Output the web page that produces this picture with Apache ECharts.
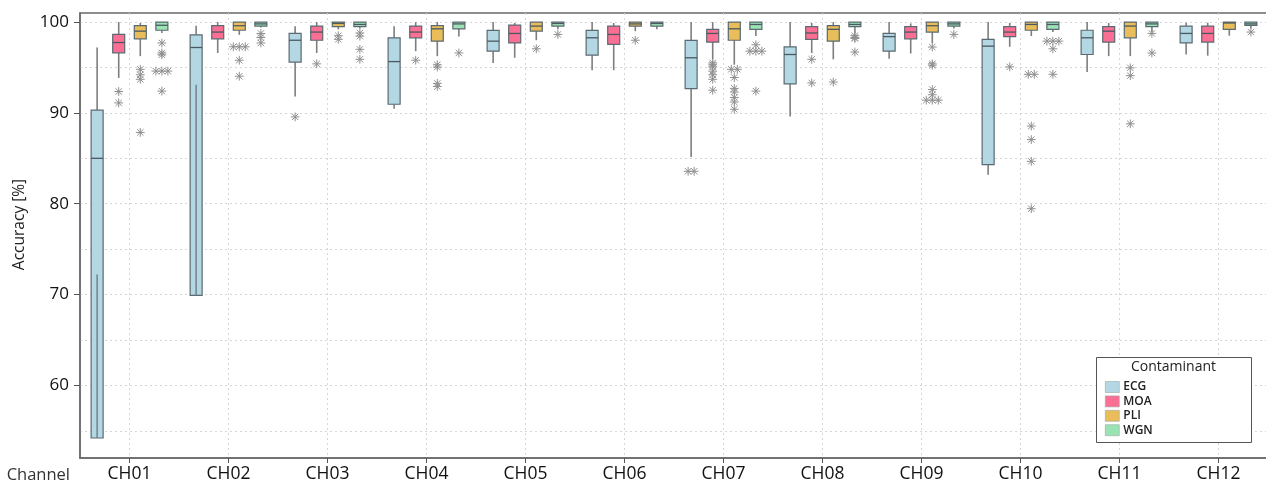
<!DOCTYPE html>
<html><head><meta charset="utf-8">
<script src="https://cdn.jsdelivr.net/npm/echarts@6/dist/echarts.min.js"></script>
<style>html,body{margin:0;padding:0;background:#fff;overflow:hidden}#c{width:1266px;height:485px}</style>
</head><body><div id="c"></div>
<script>
const categories = ['CH01','CH02','CH03','CH04','CH05','CH06','CH07','CH08','CH09','CH10','CH11','CH12'];
const contaminants = ['ECG','MOA','PLI','WGN'];
const yTickValues = [60,70,80,90,100];
const yGridValues = [55,60,65,70,75,80,85,90,95,100];

// [low whisker, Q1, median, Q3, high whisker]
const ecgStats = [
  [54.2,54.2,85.0,90.3,97.2],[69.9,69.9,97.2,98.6,99.6],[91.8,95.6,98.0,98.75,99.55],
  [90.45,90.95,95.65,98.27,99.55],[95.5,96.8,97.9,99.08,100],[94.7,96.36,98.27,99.08,100],
  [85.15,92.68,96.07,97.98,100],[89.6,93.2,96.43,97.28,100],[95.96,96.8,98.4,98.75,100],
  [83.2,84.3,97.35,98.1,100],[94.5,96.43,98.27,99.1,100],[96.43,97.7,98.75,99.56,99.93]
];
const ecgInner = [72.2,93.1,null,null,null,null,null,null,null,null,null,null];
const ecgOutliers = [[],[],[89.56],[],[],[],[83.57,83.57],[],[],[],[],[]];

const moaStats = [
  [93.85,96.62,97.75,98.64,100],[96.6,98.16,98.9,99.6,100],[96.6,98.0,98.9,99.56,100],
  [96.8,98.27,98.9,99.56,100],[96.07,97.7,98.75,99.67,99.9],[94.7,97.54,98.64,99.56,99.9],
  [95.9,97.8,98.75,99.19,100],[96.6,98.1,98.8,99.5,99.9],[96.54,98.16,98.9,99.5,99.85],
  [97.28,98.4,98.9,99.5,99.9],[96.25,97.8,99.0,99.5,99.9],[96.3,97.8,98.75,99.56,99.93]
];
const moaOutliers = [[92.35,91.1],[],[95.4],[95.8],[],[],[95.5,95.3,95.07,94.6,94.2,93.7,92.5],
  [95.9,93.3],[],[95.07],[],[]];

const pliStats = [
  [96.25,98.16,99.0,99.6,99.9],[98.6,99.1,99.6,100,100],[99.2,99.5,99.85,100,100],
  [96.25,97.9,99.26,99.6,100],[98.0,99.0,99.56,100,100],[99.0,99.56,99.8,100,100],
  [95.3,98.0,99.26,100,100],[95.9,97.9,99.2,99.6,100],[97.7,98.9,99.6,100,100],
  [98.46,99.1,99.74,100,100],[96.25,98.27,99.56,100,100],[98.5,99.2,99.9,100,100]
];
const pliOutliers = [[94.8,94.2,93.7,87.85],[97.28,97.28,97.28,95.8,94.04],[98.5,98.1],
  [95.3,95.05,93.25,92.9],[97.06],[98.0],[94.8,94.8,93.9,92.7,92.3,91.7,91.2,90.4],
  [93.4],[97.25,95.4,95.25,92.57,92.0,91.4,91.4,91.4],[94.25,94.25,88.55,87.06,84.67,79.45],
  [94.96,94.1,88.8],[]];

const wgnStats = [
  [98.8,99.1,99.65,100,100],[99.4,99.56,99.8,100,100],[99.3,99.5,99.74,100,100],
  [98.4,99.26,99.8,100,100],[99.2,99.56,99.85,100,100],[99.2,99.56,99.85,100,100],
  [98.46,99.2,99.74,100,100],[98.8,99.5,99.74,100,100],[99.3,99.56,99.8,100,100],
  [98.9,99.2,99.74,100,100],[98.9,99.5,99.8,100,100],[99.3,99.63,99.8,100,100]
];
const wgnOutliers = [[97.7,96.6,96.4,94.6,94.6,94.6,92.4],[98.75,98.3,97.7],[98.8,98.45,97.0,95.9],
  [96.6],[98.64],[],[97.5,96.8,96.8,96.8,92.4],[98.5,98.3,98.2,96.7],[98.64],
  [97.9,97.9,97.9,97.06,94.25],[98.75,96.6],[98.9]];

const fills = ['#b3d7e3','#fb6f95','#e9bd5a','#9be3b3'];
const boxStroke = '#5b6a72';
const whiskerColor = '#7e7e7e';
const font = '"Open Sans", "Noto Sans", sans-serif';

const statsBy = [ecgStats, moaStats, pliStats, wgnStats];
const outBy = [ecgOutliers, moaOutliers, pliOutliers, wgnOutliers];
const innerBy = [ecgInner, null, null, null];

function seriesOffset(api, si) {
  const band = api.size([1, 0])[0];
  return (si - 1.5) * band * 0.218;
}

function boxSeries(si) {
  const stats = statsBy[si], inner = innerBy[si];
  return {
    type: 'custom', name: contaminants[si], z: 3,
    itemStyle: {color: fills[si], borderColor: boxStroke},
    encode: {x: 0, y: [1,2,3,4,5]},
    data: stats.map((s, i) => [i].concat(s)),
    renderItem: function (params, api) {
      const i = api.value(0);
      const cx = api.coord([i, 100])[0] + seriesOffset(api, si);
      const y = k => api.coord([i, api.value(k)])[1];
      const ylo = y(1), yq1 = y(2), ymed = y(3), yq3 = y(4), yhi = y(5);
      const hw = 6;
      const ch = [
        {type:'line', shape:{x1:cx,y1:yq3,x2:cx,y2:yhi}, style:{stroke:whiskerColor,lineWidth:1.6}},
        {type:'line', shape:{x1:cx,y1:yq1,x2:cx,y2:ylo}, style:{stroke:whiskerColor,lineWidth:1.6}},
        {type:'rect', shape:{x:cx-hw,y:yq3,width:2*hw,height:Math.max(yq1-yq3,1)},
          style:{fill:fills[si],stroke:boxStroke,lineWidth:1.2}},
        {type:'line', shape:{x1:cx-hw,y1:ymed,x2:cx+hw,y2:ymed}, style:{stroke:'#4a5960',lineWidth:1.3}}
      ];
      if (inner && inner[i] != null) {
        const yi = api.coord([i, inner[i]])[1];
        ch.push({type:'line', shape:{x1:cx,y1:yq1,x2:cx,y2:yi}, style:{stroke:'#6d7c84',lineWidth:1.4}});
      }
      return {type:'group', children: ch};
    }
  };
}

function outlierSeries(si) {
  const outs = outBy[si];
  const data = [];
  outs.forEach((vals, i) => {
    const counts = {};
    vals.forEach(v => { counts[v] = (counts[v] || 0) + 1; });
    const seen = {};
    vals.forEach(v => {
      const k = seen[v] = (seen[v] || 0) + 1;
      data.push([i, v, (k - 1) - (counts[v] - 1) / 2]);
    });
  });
  return {
    type: 'custom', name: contaminants[si], z: 4,
    itemStyle: {color: fills[si]},
    encode: {x: 0, y: 1},
    data: data,
    renderItem: function (params, api) {
      const i = api.value(0);
      const p = api.coord([i, api.value(1)]);
      const cx = p[0] + seriesOffset(api, si) + api.value(2) * 6;
      const cy = p[1];
      const r = 4.4, d = r * 0.72;
      const st = {stroke:'#8f8f8f', lineWidth:1};
      return {type:'group', children:[
        {type:'line', shape:{x1:cx,y1:cy-r,x2:cx,y2:cy+r}, style:st},
        {type:'line', shape:{x1:cx-r,y1:cy,x2:cx+r,y2:cy}, style:st},
        {type:'line', shape:{x1:cx-d,y1:cy-d,x2:cx+d,y2:cy+d}, style:st},
        {type:'line', shape:{x1:cx-d,y1:cy+d,x2:cx+d,y2:cy-d}, style:st}
      ]};
    }
  };
}

const gridLine = {show:true, lineStyle:{color:'#d6d6d6', width:1, type:[2,3]}};

const option = {
  backgroundColor: '#fff',
  animation: false,
  grid: {left: 80, right: -2, top: 13, bottom: 27, show: true, borderColor: '#6a6a6a', borderWidth: 1.5,
    containLabel: false, outerBoundsMode: 'none'},
  legend: {
    orient: 'vertical', left: 1100, top: 376, itemWidth: 14, itemHeight: 11, itemGap: 2.4,
    icon: 'rect', data: contaminants,
    itemStyle: {borderColor: '#9aa', borderWidth: 0.6},
    textStyle: {fontFamily: font, fontSize: 12, fontWeight: 600, color: '#222', padding: [0,0,0,-1]}
  },
  graphic: [
    {type:'rect', left: 1096, top: 357, shape:{width:155, height:85}, z: 1,
      style:{fill:'#fff', stroke:'#555', lineWidth:1}},
    {type:'text', left: 1131, top: 360, z: 2,
      style:{text:'Contaminant', fontFamily: font, fontSize: 14, fill:'#222'}}
  ],
  xAxis: {
    type: 'category', data: categories,
    name: 'Channel', nameLocation: 'start', nameGap: 10,
    nameTextStyle: {fontFamily: font, fontSize: 16.5, color: '#333', verticalAlign: 'top', padding: [9,0,0,0]},
    axisLine: {show: true, lineStyle: {color: '#6a6a6a', width: 1.5}},
    axisTick: {show: true, alignWithLabel: true, length: 5, lineStyle: {color: '#555'}},
    axisLabel: {fontFamily: font, fontSize: 17.5, color: '#111', margin: 7},
    splitLine: Object.assign({alignWithLabel: true}, gridLine)
  },
  yAxis: [
    {
      type: 'value', min: 52, max: 101, position: 'left',
      name: 'Accuracy [%]', nameLocation: 'middle', nameGap: 52,
      nameTextStyle: {fontFamily: font, fontSize: 15.5, color: '#222', padding: [0,0,0,22]},
      axisLine: {show: true, lineStyle: {color: '#6a6a6a', width: 1.5}},
      axisTick: {show: true, length: 6, customValues: yTickValues, lineStyle: {color: '#555'}},
      axisLabel: {customValues: yTickValues, fontFamily: font, fontSize: 17, color: '#111', margin: 11},
      splitLine: {show: false}
    },
    {
      type: 'value', min: 52, max: 101, position: 'left',
      axisLine: {show: false},
      axisTick: {show: false, customValues: yGridValues},
      axisLabel: {show: false, customValues: yGridValues},
      splitLine: gridLine
    }
  ],
  series: [0,1,2,3].map(boxSeries).concat([0,1,2,3].map(outlierSeries))
};

const chart = echarts.init(document.getElementById('c'), null, {renderer: 'canvas'});
chart.setOption(option);
</script>
</body></html>
